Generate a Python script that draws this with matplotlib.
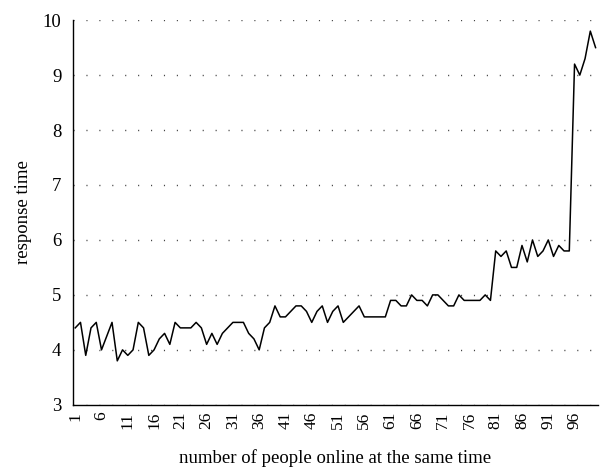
import numpy as np
import matplotlib
matplotlib.use('Agg')
import matplotlib.pyplot as plt

plt.rcParams['font.family'] = ['Liberation Serif', 'DejaVu Serif']

# number of people online (1..100) and measured response time
people = list(range(1, 101))
response = [
    4.4, 4.5, 3.9, 4.4, 4.5, 4.0, 4.25, 4.5, 3.8, 4.0,
    3.9, 4.0, 4.5, 4.4, 3.9, 4.0, 4.2, 4.3, 4.1, 4.5,
    4.4, 4.4, 4.4, 4.5, 4.4, 4.1, 4.3, 4.1, 4.3, 4.4,
    4.5, 4.5, 4.5, 4.3, 4.2, 4.0, 4.4, 4.5, 4.8, 4.6,
    4.6, 4.7, 4.8, 4.8, 4.7, 4.5, 4.7, 4.8, 4.5, 4.7,
    4.8, 4.5, 4.6, 4.7, 4.8, 4.6, 4.6, 4.6, 4.6, 4.6,
    4.9, 4.9, 4.8, 4.8, 5.0, 4.9, 4.9, 4.8, 5.0, 5.0,
    4.9, 4.8, 4.8, 5.0, 4.9, 4.9, 4.9, 4.9, 5.0, 4.9,
    5.8, 5.7, 5.8, 5.5, 5.5, 5.9, 5.6, 6.0, 5.7, 5.8,
    6.0, 5.7, 5.9, 5.8, 5.8, 9.2, 9.0, 9.3, 9.8, 9.5,
]
xticks = list(range(1, 100, 5))
yticks = list(range(3, 11))

fig = plt.figure(figsize=(6, 4.68), dpi=100)
ax = fig.add_axes([0.121, 0.135, 0.876, 0.822])

ax.plot(people, response, color='black', linewidth=1.1)

ax.set_xlim(0.5, 100.5)
ax.set_ylim(3, 10)
ax.set_xticks(xticks)
ax.set_xticklabels([str(t) for t in xticks], rotation=90)
ax.set_yticks(yticks)

# dotted horizontal grid
ax.grid(axis='y', color='#444444', linewidth=1.0, linestyle=(0, (0.8, 8.5)))
ax.set_axisbelow(True)

for s in ['top', 'right']:
    ax.spines[s].set_visible(False)
for s in ['left', 'bottom']:
    ax.spines[s].set_linewidth(1.0)

ax.tick_params(axis='x', length=0, pad=5, labelsize=12.5)
ax.tick_params(axis='y', length=0, pad=8, labelsize=13.5)

ax.set_xlabel('number of people online at the same time', fontsize=13.5, labelpad=14)
ax.set_ylabel('response time', fontsize=13.5, labelpad=8)

fig.savefig('out.png', dpi=100)
